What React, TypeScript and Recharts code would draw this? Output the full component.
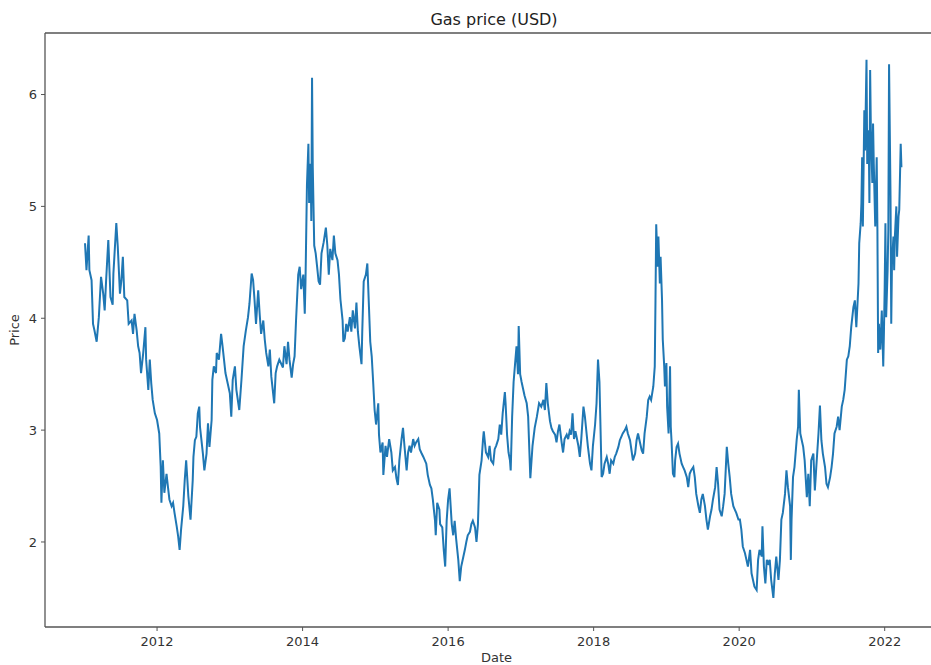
import React from "react";
import { LineChart, Line, XAxis, YAxis, ReferenceLine } from "recharts";

// weekly-ish price readings, split by period (year as decimal)
const years2011 = [
  2011.01, 2011.03, 2011.06, 2011.07, 2011.10, 2011.12, 2011.14, 2011.17, 2011.20, 2011.23,
  2011.26, 2011.28, 2011.30, 2011.33, 2011.36, 2011.39, 2011.40, 2011.44, 2011.46, 2011.49,
  2011.51, 2011.53, 2011.55, 2011.59, 2011.61, 2011.65, 2011.67, 2011.69, 2011.72, 2011.74,
  2011.76, 2011.78, 2011.81, 2011.84, 2011.85, 2011.88, 2011.90, 2011.92, 2011.94, 2011.97,
  2012.00, 2012.03, 2012.05, 2012.06, 2012.08, 2012.10, 2012.13, 2012.15, 2012.17, 2012.20,
  2012.22, 2012.24, 2012.27, 2012.29, 2012.31, 2012.33, 2012.36, 2012.38, 2012.40, 2012.43,
  2012.46, 2012.49, 2012.50, 2012.52, 2012.54, 2012.56, 2012.58, 2012.59, 2012.61, 2012.63,
  2012.65, 2012.68, 2012.70, 2012.72, 2012.75, 2012.76, 2012.78, 2012.81, 2012.82, 2012.85,
  2012.88, 2012.90, 2012.92, 2012.94, 2012.98, 2013.00, 2013.02, 2013.04, 2013.07, 2013.09,
  2013.13, 2013.16, 2013.19, 2013.22, 2013.25, 2013.27, 2013.30, 2013.32, 2013.34, 2013.36,
  2013.39, 2013.41, 2013.43, 2013.46, 2013.48, 2013.50, 2013.53, 2013.55, 2013.57, 2013.59,
  2013.61, 2013.63, 2013.65, 2013.68,
];
const prices2011 = [
  4.67, 4.43, 4.74, 4.43, 4.34, 3.95, 3.89, 3.79, 4.01, 4.37,
  4.22, 4.07, 4.34, 4.70, 4.19, 4.12, 4.40, 4.85, 4.64, 4.22,
  4.34, 4.55, 4.19, 4.16, 3.95, 3.98, 3.86, 4.04, 3.89, 3.75,
  3.69, 3.51, 3.69, 3.92, 3.63, 3.36, 3.63, 3.42, 3.27, 3.15,
  3.09, 2.97, 2.67, 2.35, 2.73, 2.44, 2.61, 2.49, 2.38, 2.32,
  2.35, 2.26, 2.14, 2.05, 1.93, 2.11, 2.32, 2.55, 2.73, 2.41,
  2.20, 2.55, 2.76, 2.91, 2.94, 3.15, 3.21, 3.03, 2.91, 2.79,
  2.64, 2.79, 3.06, 2.85, 3.09, 3.45, 3.57, 3.51, 3.69, 3.63,
  3.86, 3.75, 3.63, 3.51, 3.39, 3.33, 3.12, 3.45, 3.57, 3.36,
  3.18, 3.45, 3.75, 3.89, 4.01, 4.13, 4.40, 4.34, 4.16, 3.95,
  4.25, 4.04, 3.86, 3.98, 3.81, 3.69, 3.57, 3.72, 3.48, 3.36,
  3.24, 3.51, 3.57, 3.63,
];

const years2014 = [
  2013.73, 2013.75, 2013.78, 2013.80, 2013.82, 2013.85, 2013.87, 2013.89, 2013.91, 2013.94,
  2013.96, 2013.98, 2014.01, 2014.03, 2014.04, 2014.06, 2014.08, 2014.09, 2014.11, 2014.12,
  2014.13, 2014.14, 2014.16, 2014.18, 2014.20, 2014.22, 2014.24, 2014.26, 2014.29, 2014.32,
  2014.34, 2014.36, 2014.38, 2014.41, 2014.43, 2014.45, 2014.48, 2014.50, 2014.52, 2014.55,
  2014.56, 2014.58, 2014.60, 2014.62, 2014.65, 2014.67, 2014.69, 2014.72, 2014.74, 2014.76,
  2014.78, 2014.81, 2014.82, 2014.84, 2014.87, 2014.89, 2014.91, 2014.93, 2014.95, 2014.97,
  2014.99, 2015.01, 2015.04, 2015.05, 2015.07, 2015.10, 2015.11, 2015.14, 2015.16, 2015.19,
  2015.22, 2015.24, 2015.27, 2015.29, 2015.31, 2015.33, 2015.36, 2015.38, 2015.40, 2015.43,
  2015.45, 2015.47, 2015.49, 2015.52, 2015.54, 2015.56, 2015.59, 2015.61, 2015.63, 2015.66,
  2015.70, 2015.72, 2015.75, 2015.77, 2015.79, 2015.82, 2015.83, 2015.85, 2015.88, 2015.89,
  2015.92, 2015.94, 2015.96, 2015.98, 2016.00, 2016.02, 2016.05, 2016.07, 2016.09, 2016.11,
  2016.14, 2016.16, 2016.18, 2016.21, 2016.23, 2016.25, 2016.27, 2016.30, 2016.32, 2016.34,
  2016.37, 2016.39, 2016.41, 2016.43, 2016.46, 2016.48, 2016.49, 2016.52, 2016.55, 2016.57,
  2016.59, 2016.62, 2016.64, 2016.66, 2016.69, 2016.71, 2016.73, 2016.75, 2016.78, 2016.79,
  2016.81, 2016.83, 2016.85, 2016.86, 2016.88, 2016.90, 2016.92, 2016.94, 2016.96, 2016.97,
  2016.99, 2017.01, 2017.03, 2017.05, 2017.08, 2017.10, 2017.13, 2017.16, 2017.19, 2017.22,
  2017.25, 2017.28, 2017.31, 2017.33, 2017.35, 2017.37, 2017.40, 2017.42, 2017.44, 2017.47,
  2017.49, 2017.51, 2017.53, 2017.56, 2017.58, 2017.60, 2017.63, 2017.65, 2017.67, 2017.69,
  2017.71, 2017.73, 2017.75, 2017.79, 2017.81, 2017.83, 2017.86, 2017.88, 2017.90, 2017.92,
  2017.95, 2017.97, 2017.99, 2018.02, 2018.04, 2018.06, 2018.08,
];
const prices2014 = [
  3.56, 3.75, 3.59, 3.79, 3.63, 3.47, 3.59, 3.66, 3.98, 4.39,
  4.46, 4.26, 4.39, 4.04, 4.33, 5.19, 5.56, 5.03, 5.38, 4.87,
  6.15, 5.35, 4.65, 4.58, 4.46, 4.33, 4.30, 4.58, 4.68, 4.81,
  4.65, 4.39, 4.62, 4.52, 4.74, 4.58, 4.52, 4.39, 4.17, 3.98,
  3.79, 3.82, 3.95, 3.88, 4.01, 3.88, 4.07, 3.91, 4.14, 3.88,
  3.75, 3.59, 3.88, 4.33, 4.39, 4.49, 4.14, 3.79, 3.66, 3.43,
  3.18, 3.05, 3.24, 2.96, 2.80, 2.89, 2.60, 2.86, 2.76, 2.92,
  2.80, 2.64, 2.67, 2.57, 2.51, 2.73, 2.92, 3.02, 2.86, 2.64,
  2.80, 2.86, 2.80, 2.92, 2.86, 2.89, 2.92, 2.83, 2.80, 2.76,
  2.70, 2.60, 2.51, 2.48, 2.38, 2.19, 2.06, 2.35, 2.29, 2.16,
  2.13, 1.93, 1.78, 2.19, 2.38, 2.48, 2.16, 2.06, 2.19, 2.03,
  1.84, 1.65, 1.78, 1.87, 1.93, 2.00, 2.06, 2.09, 2.16, 2.19,
  2.13, 2.00, 2.16, 2.60, 2.73, 2.92, 2.99, 2.80, 2.76, 2.86,
  2.73, 2.70, 2.83, 2.86, 2.92, 3.05, 2.96, 3.15, 3.34, 3.24,
  2.96, 2.80, 2.73, 2.64, 3.12, 3.43, 3.59, 3.75, 3.50, 3.93,
  3.50, 3.43, 3.37, 3.31, 3.24, 3.12, 2.57, 2.86, 3.02, 3.12,
  3.24, 3.21, 3.27, 3.18, 3.42, 3.24, 3.08, 3.02, 2.99, 2.96,
  2.89, 2.99, 3.05, 2.89, 2.80, 2.92, 2.96, 2.92, 2.99, 2.96,
  3.15, 2.92, 2.99, 2.86, 2.76, 2.92, 3.21, 3.12, 2.99, 2.86,
  2.70, 2.64, 2.86, 3.05, 3.24, 3.63, 3.43,
];

const years2018 = [
  2018.11, 2018.13, 2018.15, 2018.18, 2018.20, 2018.22, 2018.24, 2018.27, 2018.29, 2018.31,
  2018.34, 2018.36, 2018.38, 2018.40, 2018.43, 2018.45, 2018.47, 2018.50, 2018.52, 2018.54,
  2018.57, 2018.59, 2018.61, 2018.63, 2018.66, 2018.68, 2018.70, 2018.73, 2018.75, 2018.77,
  2018.79, 2018.82, 2018.84, 2018.85, 2018.86, 2018.88, 2018.89, 2018.91, 2018.92, 2018.94,
  2018.95, 2018.97, 2018.98, 2019.00, 2019.01, 2019.03, 2019.05, 2019.06, 2019.07, 2019.09,
  2019.11, 2019.12, 2019.14, 2019.16, 2019.18, 2019.21, 2019.23, 2019.25, 2019.28, 2019.30,
  2019.32, 2019.34, 2019.37, 2019.39, 2019.41, 2019.44, 2019.46, 2019.48, 2019.50, 2019.53,
  2019.55, 2019.57, 2019.60, 2019.62, 2019.64, 2019.67, 2019.69, 2019.71, 2019.73, 2019.76,
  2019.78, 2019.80, 2019.83, 2019.85, 2019.87, 2019.89, 2019.92, 2019.94, 2019.96, 2019.99,
  2020.01, 2020.03, 2020.05, 2020.08, 2020.10, 2020.12, 2020.15, 2020.17, 2020.19, 2020.21,
  2020.24, 2020.26, 2020.28, 2020.31, 2020.32, 2020.34, 2020.36, 2020.38, 2020.40, 2020.42,
  2020.44, 2020.47, 2020.49, 2020.51, 2020.54, 2020.56, 2020.58, 2020.60, 2020.63, 2020.65,
  2020.67, 2020.70, 2020.71, 2020.72, 2020.74, 2020.76, 2020.79, 2020.81, 2020.82, 2020.84,
  2020.86, 2020.88, 2020.90, 2020.93, 2020.95, 2020.97, 2020.99, 2021.02, 2021.04, 2021.06,
  2021.09, 2021.11, 2021.13, 2021.15, 2021.18, 2021.20, 2021.22, 2021.25, 2021.27, 2021.29,
  2021.31, 2021.34, 2021.36, 2021.38, 2021.41, 2021.43, 2021.45, 2021.48, 2021.50, 2021.52,
  2021.54, 2021.57, 2021.59, 2021.61,
];
const prices2018 = [
  2.58, 2.61, 2.70, 2.76, 2.70, 2.61, 2.73, 2.70, 2.76, 2.79,
  2.85, 2.91, 2.94, 2.97, 3.00, 3.03, 2.97, 2.91, 2.82, 2.73,
  2.79, 2.91, 2.97, 2.91, 2.82, 2.79, 2.97, 3.12, 3.27, 3.30,
  3.27, 3.39, 3.57, 4.16, 4.84, 4.46, 4.73, 4.31, 4.55, 4.16,
  3.81, 3.57, 3.39, 3.60, 3.21, 2.97, 3.57, 3.03, 2.91, 2.61,
  2.58, 2.73, 2.85, 2.88, 2.79, 2.70, 2.67, 2.64, 2.58, 2.49,
  2.61, 2.64, 2.67, 2.58, 2.43, 2.32, 2.26, 2.38, 2.43, 2.32,
  2.20, 2.11, 2.23, 2.29, 2.38, 2.49, 2.67, 2.52, 2.29, 2.23,
  2.32, 2.43, 2.85, 2.70, 2.58, 2.43, 2.32, 2.29, 2.26, 2.20,
  2.20, 2.11, 1.96, 1.90, 1.84, 1.78, 1.93, 1.72, 1.66, 1.60,
  1.57, 1.84, 1.93, 1.87, 2.14, 1.78, 1.63, 1.84, 1.81, 1.84,
  1.66, 1.50, 1.72, 1.87, 1.66, 1.84, 2.20, 2.26, 2.43, 2.64,
  2.49, 2.32, 1.84, 2.20, 2.58, 2.67, 2.91, 3.03, 3.36, 2.97,
  2.91, 2.85, 2.73, 2.40, 2.61, 2.32, 2.73, 2.79, 2.46, 2.67,
  2.97, 3.22, 2.91, 2.79, 2.67, 2.52, 2.49, 2.58, 2.67, 2.79,
  2.97, 3.03, 3.12, 3.00, 3.21, 3.27, 3.36, 3.63, 3.66, 3.75,
  3.92, 4.10, 4.16, 3.92,
];

const years2021 = [
  2021.64, 2021.65, 2021.67, 2021.68, 2021.69, 2021.70, 2021.72, 2021.73, 2021.75, 2021.76,
  2021.78, 2021.79, 2021.80, 2021.81, 2021.83, 2021.84, 2021.85, 2021.87, 2021.89, 2021.90,
  2021.91, 2021.92, 2021.94, 2021.95, 2021.96, 2021.98, 2021.99, 2022.00, 2022.01, 2022.02,
  2022.04, 2022.05, 2022.06, 2022.08, 2022.09, 2022.10, 2022.12, 2022.13, 2022.14, 2022.16,
  2022.17, 2022.19, 2022.20, 2022.22, 2022.23,
];
const prices2021 = [
  4.31, 4.67, 4.85, 5.03, 5.44, 4.82, 5.86, 5.50, 6.31, 5.38,
  5.68, 5.03, 6.22, 5.68, 5.21, 5.74, 5.38, 4.82, 5.44, 4.79,
  3.69, 3.95, 3.72, 3.89, 4.07, 3.57, 3.89, 4.28, 4.85, 4.01,
  4.43, 4.79, 6.27, 5.09, 3.95, 4.49, 4.73, 4.43, 4.73, 5.00,
  4.55, 4.91, 4.97, 5.56, 5.35,
];

const xTicks = [2012, 2014, 2016, 2018, 2020, 2022];
const yTicks = [2, 3, 4, 5, 6];
const xDomain = [2010.46, 2022.87];
const yDomain = [1.24, 6.55];

const zip = (ts: number[], ps: number[]) => ts.map((t, i) => ({ t, price: ps[i] }));

const data = [
  ...zip(years2011, prices2011),
  ...zip(years2014, prices2014),
  ...zip(years2018, prices2018),
  ...zip(years2021, prices2021),
];

const font = "'DejaVu Sans', sans-serif";
const axisColor = "#555";
const tickStyle = { fontFamily: font, fontSize: 13, fill: "#333" };

export default function App() {
  return (
    <div
      style={{
        position: "absolute",
        left: 0,
        top: 0,
        width: 931,
        height: 665,
        overflow: "hidden",
        background: "#fff",
      }}
    >
      <div
        style={{
          position: "absolute",
          left: 0,
          top: 12,
          width: 988,
          textAlign: "center",
          fontFamily: font,
          fontSize: 16,
          lineHeight: "16px",
          color: "#222",
        }}
      >
        Gas price (USD)
      </div>
      <LineChart
        width={948}
        height={665}
        data={data}
        margin={{ top: 33, right: 0, bottom: 0, left: 0 }}
      >
        <XAxis
          dataKey="t"
          type="number"
          domain={xDomain}
          ticks={xTicks}
          allowDataOverflow
          height={38}
          tickSize={4}
          tickMargin={6}
          tick={tickStyle}
          stroke={axisColor}
          axisLine={{ stroke: axisColor, strokeWidth: 1.3 }}
          tickLine={{ stroke: axisColor }}
          label={{
            value: "Date",
            position: "insideBottom",
            offset: 3,
            style: { fontFamily: font, fontSize: 13, fill: "#333" },
          }}
        />
        <YAxis
          type="number"
          domain={yDomain}
          ticks={yTicks}
          allowDataOverflow
          width={45}
          tickSize={4}
          tickMargin={4}
          tick={tickStyle}
          stroke={axisColor}
          axisLine={{ stroke: axisColor, strokeWidth: 1.3 }}
          tickLine={{ stroke: axisColor }}
          label={{
            value: "Price",
            angle: -90,
            position: "insideLeft",
            offset: 14,
            style: { fontFamily: font, fontSize: 13, fill: "#333", textAnchor: "middle" },
          }}
        />
        <ReferenceLine y={yDomain[1]} stroke={axisColor} strokeWidth={1.3} />
        <ReferenceLine x={xDomain[1]} stroke={axisColor} strokeWidth={1.3} />
        <Line
          type="linear"
          dataKey="price"
          stroke="#1f77b4"
          strokeWidth={2}
          dot={false}
          isAnimationActive={false}
        />
      </LineChart>
    </div>
  );
}
